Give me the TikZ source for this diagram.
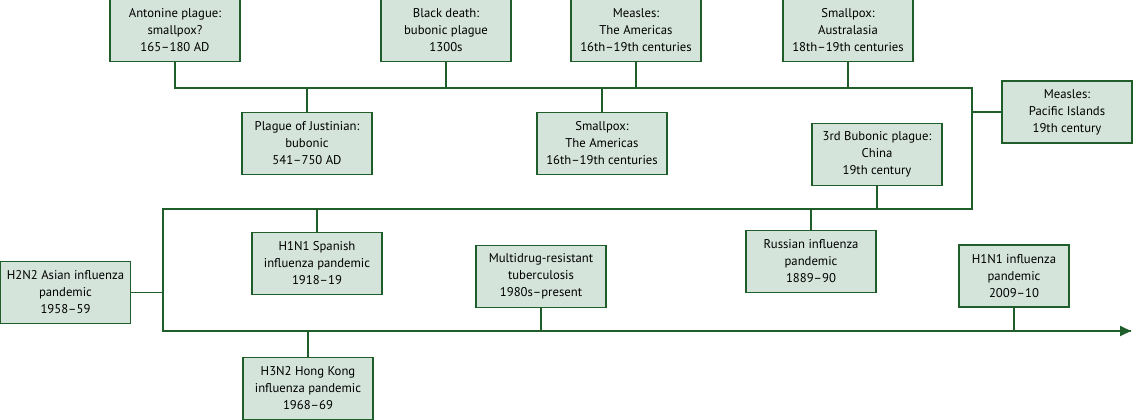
\documentclass[tikz,border=0pt]{standalone}
\usepackage{fontspec}
\setmainfont{PT Sans}
\usetikzlibrary{arrows.meta}
\definecolor{boxfill}{HTML}{D4E4DA}
\definecolor{dkgreen}{HTML}{1F5E2B}
\begin{document}
\begin{tikzpicture}[x=1pt,y=1pt,
  evbox/.style={draw=dkgreen, fill=boxfill, line width=1.8pt, minimum width=130pt, minimum height=62pt,
    inner sep=0pt, align=center, font=\fontsize{12.7pt}{17pt}\selectfont, text=black},
  conn/.style={draw=dkgreen, line width=1.8pt}]
\useasboundingbox (0,0) rectangle (1133,-420);
% top row
\node[evbox] (ant) at (175,-30.5) {Antonine plague:\\smallpox?\\165–180 AD};
\node[evbox] (bd)  at (446,-30.5) {Black death:\\bubonic plague\\1300s};
\node[evbox] (mea) at (636,-30.5) {Measles:\\The Americas\\16th–19th centuries};
\node[evbox] (spa) at (848,-30.5) {Smallpox:\\Australasia\\18th–19th centuries};
% second row
\node[evbox] (jus) at (307,-143.5) {Plague of Justinian:\\bubonic\\541–750 AD};
\node[evbox] (sma) at (602,-143.5) {Smallpox:\\The Americas\\16th–19th centuries};
\node[evbox] (bub) at (877,-154.5) {3rd Bubonic plague:\\China\\19th century};
\node[evbox] (pac) at (1067,-112) {Measles:\\Pacific Islands\\19th century};
% third row
\node[evbox] (spn) at (317,-263.5) {H1N1 Spanish\\influenza pandemic\\1918–19};
\node[evbox] (h2)  at (65.5,-292.5) {H2N2 Asian influenza\\pandemic\\1958–59};
\node[evbox] (mdr) at (541,-276.5) {Multidrug-resistant\\tuberculosis\\1980s–present};
\node[evbox] (rus) at (811,-261.5) {Russian influenza\\pandemic\\1889–90};
\node[evbox, minimum width=110pt] (h1) at (1014,-276) {H1N1 influenza\\pandemic\\2009–10};
\node[evbox] (h3)  at (308,-388.5) {H3N2 Hong Kong\\influenza pandemic\\1968–69};
% main timeline path
\coordinate (tr) at (972,-88);
\coordinate (br) at (972,-209);
\coordinate (bl) at (163,-209);
\coordinate (al) at (163,-331);
\coordinate (ae) at (1131,-331);
\draw[conn, line join=miter] (ant.south) |- (tr) -- (br) -- (bl) -- (al) -- (ae);
\draw[conn, -{Triangle[length=11pt,width=10pt]}] (al) -- (ae);
% connectors
\draw[conn] (bd.south) -- (bd.south |- tr);
\draw[conn] (mea.south) -- (mea.south |- tr);
\draw[conn] (spa.south) -- (spa.south |- tr);
\draw[conn] (jus.north) -- (jus.north |- tr);
\draw[conn] (sma.north) -- (sma.north |- tr);
\draw[conn] (pac.west) -- (pac.west -| tr);
\draw[conn] (bub.south) -- (bub.south |- br);
\draw[conn] (spn.north) -- (spn.north |- bl);
\draw[conn] (rus.north) -- (rus.north |- bl);
\draw[conn] (h2.east) -- (h2.east -| bl);
\draw[conn] (mdr.south) -- (mdr.south |- al);
\draw[conn] (h1.south) -- (h1.south |- al);
\draw[conn] (h3.north) -- (h3.north |- al);
\end{tikzpicture}
\end{document}
